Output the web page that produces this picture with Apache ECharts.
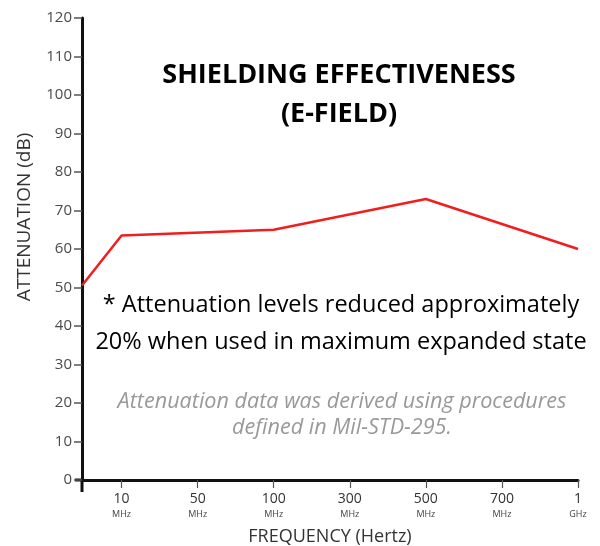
<!DOCTYPE html>
<html>
<head>
<meta charset="utf-8">
<script src="https://cdn.jsdelivr.net/npm/echarts@6/dist/echarts.min.js"></script>
<style>html,body{margin:0;padding:0;background:#fff}#c{width:600px;height:546px}</style>
</head>
<body>
<div id="c"></div>
<script>
// Frequency tick labels (value + unit)
const freqValues = ['10', '50', '100', '300', '500', '700', '1'];
const freqUnits = ['MHz', 'MHz', 'MHz', 'MHz', 'MHz', 'MHz', 'GHz'];
// Line series: position along the frequency axis (index of tick) and attenuation in dB
const lineX = [-0.52, 0, 2, 4, 6];
const attenuation = [50.5, 63.5, 65, 73, 60];
const yTicks = [0, 10, 20, 30, 40, 50, 60, 70, 80, 90, 100, 110, 120];

const titleLines = ['SHIELDING EFFECTIVENESS', '(E-FIELD)'];
const noteLines = ['* Attenuation levels reduced approximately', '20% when used in maximum expanded state'];
const sourceLines = ['Attenuation data was derived using procedures', 'defined in Mil-STD-295.'];
const xAxisName = 'FREQUENCY (Hertz)';
const yAxisName = 'ATTENUATION (dB)';

const chart = echarts.init(document.getElementById('c'));
const FONT = 'Open Sans';
const tickIdx = freqValues.map((_, i) => i);

chart.setOption({
  animation: false,
  backgroundColor: '#fff',
  grid: { left: 82, right: 22, top: 18, bottom: 66, containLabel: false, outerBoundsMode: 'none' },
  xAxis: {
    type: 'value',
    min: lineX[0],
    max: freqValues.length - 1,
    splitLine: { show: false },
    axisLine: { show: true, onZero: false, lineStyle: { color: '#111', width: 3 } },
    axisTick: { show: true, customValues: tickIdx, length: 8, lineStyle: { color: '#555', width: 1.2 } },
    axisLabel: {
      customValues: tickIdx,
      margin: 12,
      formatter: function (v) {
        const i = Math.round(v);
        return '{n|' + freqValues[i] + '}\n{u|' + freqUnits[i] + '}';
      },
      rich: {
        n: { fontFamily: FONT, fontSize: 14, color: '#333', lineHeight: 15, align: 'center' },
        u: { fontFamily: FONT, fontSize: 9, color: '#444', lineHeight: 14, align: 'center' }
      }
    },
    name: xAxisName,
    nameLocation: 'middle',
    nameGap: 48,
    nameTextStyle: { fontFamily: FONT, fontSize: 18, color: '#333' }
  },
  yAxis: {
    type: 'value',
    min: yTicks[0],
    max: yTicks[yTicks.length - 1],
    interval: 10,
    splitLine: { show: false },
    axisLine: { show: true, onZero: false, lineStyle: { color: '#111', width: 3 } },
    axisTick: { show: true, length: 8, lineStyle: { color: '#555', width: 1.5 } },
    axisLabel: { fontFamily: FONT, fontSize: 15, color: '#4a4a4a', margin: 10 }
  },
  series: [{
    type: 'line',
    data: lineX.map((x, i) => [x, attenuation[i]]),
    symbol: 'none',
    lineStyle: { color: '#f01e1e', width: 2.5 },
    z: 3
  }]
});

// axis overhangs (y axis below the origin, x axis left of it)
const o = chart.convertToPixel({ gridIndex: 0 }, [lineX[0], yTicks[0]]);
chart.setOption({
  graphic: [
    { type: 'line', shape: { x1: o[0], y1: o[1], x2: o[0], y2: o[1] + 12 }, style: { stroke: '#111', lineWidth: 3 } },
    { type: 'line', shape: { x1: o[0] - 7, y1: o[1], x2: o[0], y2: o[1] }, style: { stroke: '#111', lineWidth: 3 } },
    { type: 'text', x: 25, y: 217, rotation: Math.PI / 2, style: { text: yAxisName, font: '19px "Open Sans"', fill: '#333', align: 'center', verticalAlign: 'middle' } },
    { type: 'text', x: 339, y: 75, style: { text: titleLines[0], font: 'bold 27px "Open Sans"', fill: '#000', align: 'center', verticalAlign: 'middle' } },
    { type: 'text', x: 339, y: 114, style: { text: titleLines[1], font: 'bold 27px "Open Sans"', fill: '#000', align: 'center', verticalAlign: 'middle' } },
    { type: 'text', x: 341, y: 305, style: { text: noteLines[0], font: '23.5px "Open Sans"', fill: '#000', align: 'center', verticalAlign: 'middle' } },
    { type: 'text', x: 341, y: 342, style: { text: noteLines[1], font: '23.5px "Open Sans"', fill: '#000', align: 'center', verticalAlign: 'middle' } },
    { type: 'text', x: 342, y: 402, style: { text: sourceLines[0], font: 'italic 21.6px "Open Sans"', fill: '#999', align: 'center', verticalAlign: 'middle' } },
    { type: 'text', x: 342, y: 428, style: { text: sourceLines[1], font: 'italic 21.6px "Open Sans"', fill: '#999', align: 'center', verticalAlign: 'middle' } }
  ]
});
</script>
</body>
</html>
